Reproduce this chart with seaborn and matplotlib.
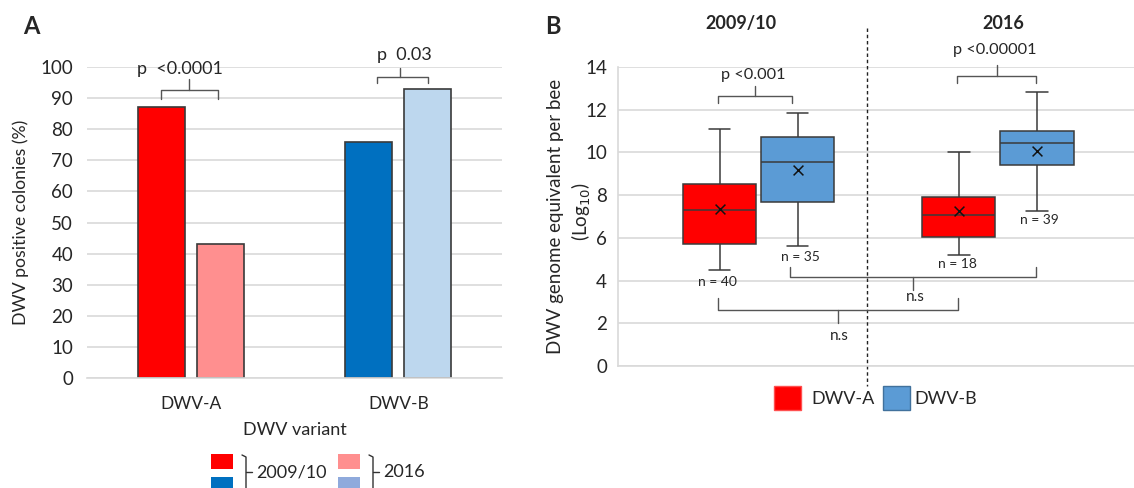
import numpy as np
import pandas as pd
import matplotlib
matplotlib.use("Agg")
import matplotlib.pyplot as plt
from matplotlib.patches import Rectangle
from matplotlib.lines import Line2D
import seaborn as sns

# --- panel A data: % DWV positive colonies ---
variants = ["DWV-A", "DWV-B"]
years = ["2009/10", "2016"]
pct_2009 = [87, 76]
pct_2016 = [43, 93]
p_text_a = ["p  <0.0001", "p  0.03"]

# --- panel B data: five-number summaries (log10 genome equivalents) ---
groups = ["2009/10", "2016"]
box_variants = ["DWV-A", "DWV-B"]
whis_low = [[4.5, 5.6], [5.2, 7.25]]
q1 = [[5.7, 7.7], [6.05, 9.4]]
median = [[7.3, 9.55], [7.05, 10.45]]
q3 = [[8.5, 10.7], [7.9, 11.0]]
whis_high = [[11.1, 11.85], [10.0, 12.85]]
means = [[7.35, 9.2], [7.25, 10.05]]
n_labels = [["n = 40", "n = 35"], ["n = 18", "n = 39"]]
p_text_b = ["p <0.001", "p <0.00001"]

bar_colors = {("DWV-A", "2009/10"): "#FF0000", ("DWV-A", "2016"): "#FF8F8F",
              ("DWV-B", "2009/10"): "#0070C0", ("DWV-B", "2016"): "#BDD7EE"}
box_colors = {"DWV-A": "#FF0000", "DWV-B": "#5B9BD5"}
edge = "#3a3a3a"
grid_c = "#d9d9d9"

sns.set_style("whitegrid")
plt.rcParams["font.family"] = ["Lato", "DejaVu Sans"]
plt.rcParams["axes.edgecolor"] = grid_c
plt.rcParams["grid.color"] = grid_c

fig = plt.figure(figsize=(11.34, 4.88), dpi=100)
W, H = 1134, 488


def fx(px):
    return px / W


def fy(py):
    return 1 - py / H


def brace(ax, x0, x1, y, dy_end, y_mid, xm):
    # Excel-style curly bracket: ends bent by dy_end, middle tick to y_mid
    ax.plot([x0, x0, x1, x1], [y - dy_end, y, y, y - dy_end], color="#555555",
            lw=1, clip_on=False)
    ax.plot([xm, xm], [y, y_mid], color="#555555", lw=1, clip_on=False)


# ================= Panel A =================
axA = fig.add_axes([fx(87), fy(378), fx(502) - fx(87), fy(67) - fy(378)])
dfA = pd.DataFrame({
    "variant": variants * 2,
    "year": [years[0]] * 2 + [years[1]] * 2,
    "pct": pct_2009 + pct_2016,
})
sns.barplot(data=dfA, x="variant", y="pct", hue="year", hue_order=years,
            width=0.57, gap=0.2, edgecolor=edge, linewidth=1.2,
            legend=False, ax=axA)
for yr, cont in zip(years, axA.containers):
    for var, bar in zip(variants, cont):
        bar.set_facecolor(bar_colors[(var, yr)])

axA.set_xlim(-0.5, 1.5)
axA.set_ylim(0, 100)
axA.set_yticks(range(0, 101, 10))
axA.grid(axis="x", visible=False)
axA.grid(axis="y", color=grid_c, linewidth=1.2)
for s in ["top", "right", "left"]:
    axA.spines[s].set_visible(False)
axA.spines["bottom"].set_color(grid_c)
axA.spines["bottom"].set_linewidth(1.2)
axA.tick_params(axis="y", length=0, pad=10, labelsize=13.5)
axA.tick_params(axis="x", length=0, pad=13, labelsize=12.5)
axA.set_ylabel("")
axA.set_xlabel("")
fig.text(fx(21), fy(222), "DWV positive colonies (%)", rotation=90,
         ha="center", va="center", fontsize=12.7)
fig.text(fx(295), fy(430), "DWV variant", ha="center", va="center", fontsize=13)
fig.text(fx(31), fy(27), "A", ha="center", va="center", fontsize=17, fontweight="bold")

bw = 0.57 / 4
brace(axA, 0 - bw, 0 + bw - 0.01, 92.6, 2.9, 96.1, -0.01)
axA.text(-0.05, 99.2, p_text_a[0], ha="center", va="center", fontsize=13)
brace(axA, 1 - bw + 0.04, 1 + bw, 96.8, 1.9, 99.7, 1.01)
axA.text(1.03, 104, p_text_a[1], ha="center", va="center", fontsize=13, clip_on=False)

# legend panel A (drawn as in the original figure)
leg_items = [(211, 454, bar_colors[("DWV-A", "2009/10")]),
             (211, 477, bar_colors[("DWV-B", "2009/10")]),
             (338, 454, bar_colors[("DWV-A", "2016")]),
             (338, 477, "#8FAADC")]
for x0, y0, c in leg_items:
    fig.add_artist(Rectangle((fx(x0), fy(y0 + 15)), fx(22), 15 / H, facecolor=c,
                             edgecolor="none", transform=fig.transFigure))
for bx, label in [(242, years[0]), (369, years[1])]:
    fig.add_artist(Line2D([fx(bx), fx(bx + 4), fx(bx + 4), fx(bx + 4)],
                          [fy(455), fy(457), fy(488), fy(490)], color="#333333", lw=1))
    fig.add_artist(Line2D([fx(bx + 4), fx(bx + 10)], [fy(472), fy(472)],
                          color="#333333", lw=1))
    fig.text(fx(bx + 14), fy(472), label, ha="left", va="center", fontsize=13)

# ================= Panel B =================
axB = fig.add_axes([fx(618), fy(366), 1 - fx(618), fy(67) - fy(366)])
rows = []
for gi, g in enumerate(groups):
    for vi, v in enumerate(box_variants):
        for arr in (whis_low, q1, median, q3, whis_high):
            rows.append({"year": g, "variant": v, "value": arr[gi][vi]})
dfB = pd.DataFrame(rows)
box_w = 0.652
sns.boxplot(data=dfB, x="year", y="value", hue="variant", order=groups,
            hue_order=box_variants, palette=box_colors, saturation=1,
            width=box_w, gap=0.064, whis=(0, 100), linecolor=edge,
            linewidth=1.1, capwidths=0.09, legend=False, ax=axB)

# mean markers
for gi in range(len(groups)):
    for vi in range(len(box_variants)):
        xpos = gi + (vi - 0.5) * box_w / 2
        axB.scatter(xpos, means[gi][vi], marker="x", s=50, color="#111111",
                    linewidths=1.1, zorder=5)

axB.set_xlim(-0.587, 1.568)
axB.set_ylim(0, 14)
axB.set_yticks(range(0, 15, 2))
axB.set_xticks([])
axB.grid(axis="x", visible=False)
axB.grid(axis="y", color=grid_c, linewidth=1.2)
for s in ["top", "right"]:
    axB.spines[s].set_visible(False)
for s in ["left", "bottom"]:
    axB.spines[s].set_color(grid_c)
    axB.spines[s].set_linewidth(1.2)
axB.tick_params(axis="y", length=0, pad=8, labelsize=13.5)
axB.set_ylabel("")
axB.set_xlabel("")
fig.text(fx(555), fy(216), "DWV genome equivalent per bee", rotation=90,
         ha="center", va="center", fontsize=13.5)
fig.text(fx(581), fy(212), "(Log$_{10}$)", rotation=90,
         ha="center", va="center", fontsize=13.5)
fig.text(fx(553), fy(27), "B", ha="center", va="center", fontsize=17, fontweight="bold")

# year titles and separator
axB.text(-0.073, 16.06, groups[0], ha="center", va="center", fontsize=13,
         fontweight="bold", clip_on=False)
axB.text(1.021, 16.06, groups[1], ha="center", va="center", fontsize=13,
         fontweight="bold", clip_on=False)
axB.plot([0.453, 0.453], [15.82, -0.94], color="#222222", lw=1, ls=(0, (2.5, 2)),
         clip_on=False)

# n labels
n_pos = [[(-0.173, 3.93), (0.177, 5.10)], [(0.829, 4.78), (1.171, 6.84)]]
for gi in range(2):
    for vi in range(2):
        xx, yy = n_pos[gi][vi]
        axB.text(xx, yy, n_labels[gi][vi], ha="center", va="center", fontsize=10)

# significance braces
brace(axB, -0.169, 0.140, 12.64, 0.33, 13.11, -0.015)
axB.text(-0.023, 13.63, p_text_b[0], ha="center", va="center", fontsize=11.7)
brace(axB, 0.829, 1.159, 13.58, 0.33, 14.09, 0.996)
axB.text(0.987, 14.8, p_text_b[1], ha="center", va="center", fontsize=11.7,
         clip_on=False)
# lower "n.s" braces (open upward)
brace(axB, 0.131, 1.159, 4.17, -0.47, 3.56, 0.645)
axB.text(0.653, 3.23, "n.s", ha="center", va="center", fontsize=11)
brace(axB, -0.169, 0.833, 2.62, -0.56, 2.01, 0.332)
axB.text(0.336, 1.40, "n.s", ha="center", va="center", fontsize=11)

# legend panel B
for x0, v, ec in [(774, "DWV-A", "#ff5050"), (883, "DWV-B", "#41719C")]:
    fig.add_artist(Rectangle((fx(x0), fy(410)), fx(27), 24 / H,
                             facecolor=box_colors[v], edgecolor=ec, lw=1,
                             transform=fig.transFigure))
    fig.text(fx(x0 + 37 if v == "DWV-A" else x0 + 31), fy(399), v,
             ha="left", va="center", fontsize=13)

fig.savefig("out.png", dpi=100)
